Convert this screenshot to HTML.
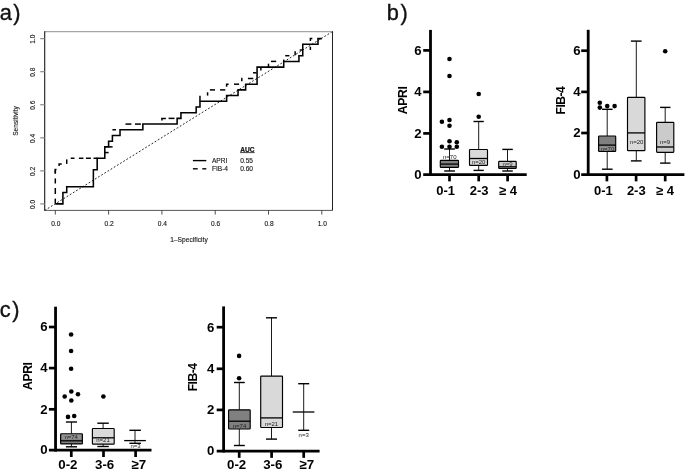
<!DOCTYPE html>
<html><head><meta charset="utf-8"><title>Figure</title>
<style>
html,body{margin:0;padding:0;background:#fff;}
body{width:685px;height:475px;overflow:hidden;}
svg{display:block;will-change:transform;font-family:'Liberation Sans', sans-serif;}
</style></head><body>
<svg width="685" height="475" viewBox="0 0 685 475">
<rect x="0" y="0" width="685" height="475" fill="#fff"/>
<text x="-0.30" y="20.30" font-size="21.8" text-anchor="start" font-weight="normal" font-style="normal" fill="#111" letter-spacing="1.5" stroke="#111" stroke-width="0.35">a)</text>
<line x1="44.7" y1="210.4" x2="332.4" y2="31.6" stroke="#222" stroke-width="1.0" stroke-dasharray="1.8 1.9"/>
<line x1="44.70" y1="31.60" x2="332.40" y2="31.60" stroke="#a6a6a6" stroke-width="1.2" />
<line x1="332.50" y1="31.20" x2="332.50" y2="210.40" stroke="#222" stroke-width="1.0" />
<line x1="44.70" y1="31.20" x2="44.70" y2="210.80" stroke="#1a1a1a" stroke-width="1.1" />
<line x1="44.30" y1="210.40" x2="332.80" y2="210.40" stroke="#3a3a3a" stroke-width="0.85" />
<line x1="55.30" y1="210.40" x2="55.30" y2="214.60" stroke="#222" stroke-width="0.8" />
<text x="55.80" y="225.50" font-size="6.6" text-anchor="middle" font-weight="normal" font-style="normal" fill="#1a1a1a" stroke="#1a1a1a" stroke-width="0.14">0.0</text>
<line x1="40.20" y1="203.90" x2="44.70" y2="203.90" stroke="#8a8a8a" stroke-width="1.2" />
<text x="35.00" y="204.40" font-size="6.6" text-anchor="middle" font-weight="normal" font-style="normal" fill="#1a1a1a" transform="rotate(-90 35.00 204.40)" stroke="#1a1a1a" stroke-width="0.14">0.0</text>
<line x1="108.60" y1="210.40" x2="108.60" y2="214.60" stroke="#222" stroke-width="0.8" />
<text x="109.10" y="225.50" font-size="6.6" text-anchor="middle" font-weight="normal" font-style="normal" fill="#1a1a1a" stroke="#1a1a1a" stroke-width="0.14">0.2</text>
<line x1="40.20" y1="170.85" x2="44.70" y2="170.85" stroke="#8a8a8a" stroke-width="1.2" />
<text x="35.00" y="171.35" font-size="6.6" text-anchor="middle" font-weight="normal" font-style="normal" fill="#1a1a1a" transform="rotate(-90 35.00 171.35)" stroke="#1a1a1a" stroke-width="0.14">0.2</text>
<line x1="161.90" y1="210.40" x2="161.90" y2="214.60" stroke="#222" stroke-width="0.8" />
<text x="162.40" y="225.50" font-size="6.6" text-anchor="middle" font-weight="normal" font-style="normal" fill="#1a1a1a" stroke="#1a1a1a" stroke-width="0.14">0.4</text>
<line x1="40.20" y1="137.80" x2="44.70" y2="137.80" stroke="#8a8a8a" stroke-width="1.2" />
<text x="35.00" y="138.30" font-size="6.6" text-anchor="middle" font-weight="normal" font-style="normal" fill="#1a1a1a" transform="rotate(-90 35.00 138.30)" stroke="#1a1a1a" stroke-width="0.14">0.4</text>
<line x1="215.20" y1="210.40" x2="215.20" y2="214.60" stroke="#222" stroke-width="0.8" />
<text x="215.70" y="225.50" font-size="6.6" text-anchor="middle" font-weight="normal" font-style="normal" fill="#1a1a1a" stroke="#1a1a1a" stroke-width="0.14">0.6</text>
<line x1="40.20" y1="104.75" x2="44.70" y2="104.75" stroke="#8a8a8a" stroke-width="1.2" />
<text x="35.00" y="105.25" font-size="6.6" text-anchor="middle" font-weight="normal" font-style="normal" fill="#1a1a1a" transform="rotate(-90 35.00 105.25)" stroke="#1a1a1a" stroke-width="0.14">0.6</text>
<line x1="268.50" y1="210.40" x2="268.50" y2="214.60" stroke="#222" stroke-width="0.8" />
<text x="269.00" y="225.50" font-size="6.6" text-anchor="middle" font-weight="normal" font-style="normal" fill="#1a1a1a" stroke="#1a1a1a" stroke-width="0.14">0.8</text>
<line x1="40.20" y1="71.70" x2="44.70" y2="71.70" stroke="#8a8a8a" stroke-width="1.2" />
<text x="35.00" y="72.20" font-size="6.6" text-anchor="middle" font-weight="normal" font-style="normal" fill="#1a1a1a" transform="rotate(-90 35.00 72.20)" stroke="#1a1a1a" stroke-width="0.14">0.8</text>
<line x1="321.80" y1="210.40" x2="321.80" y2="214.60" stroke="#222" stroke-width="0.8" />
<text x="322.30" y="225.50" font-size="6.6" text-anchor="middle" font-weight="normal" font-style="normal" fill="#1a1a1a" stroke="#1a1a1a" stroke-width="0.14">1.0</text>
<line x1="40.20" y1="38.65" x2="44.70" y2="38.65" stroke="#8a8a8a" stroke-width="1.2" />
<text x="35.00" y="39.15" font-size="6.6" text-anchor="middle" font-weight="normal" font-style="normal" fill="#1a1a1a" transform="rotate(-90 35.00 39.15)" stroke="#1a1a1a" stroke-width="0.14">1.0</text>
<text x="18.20" y="121.00" font-size="6.6" text-anchor="middle" font-weight="normal" font-style="normal" fill="#1a1a1a" transform="rotate(-90 18.20 121.00)" stroke="#1a1a1a" stroke-width="0.14">Sensitivity</text>
<text x="189.00" y="241.70" font-size="6.6" text-anchor="middle" font-weight="normal" font-style="normal" fill="#1a1a1a" stroke="#1a1a1a" stroke-width="0.14" letter-spacing="0.05">1–Specificity</text>
<line x1="55.30" y1="203.70" x2="55.30" y2="198.60" stroke="#000" stroke-width="1.5" />
<line x1="55.30" y1="194.00" x2="55.30" y2="188.00" stroke="#000" stroke-width="1.5" />
<line x1="55.30" y1="183.50" x2="55.30" y2="178.40" stroke="#000" stroke-width="1.5" />
<line x1="55.30" y1="173.60" x2="55.30" y2="169.60" stroke="#000" stroke-width="1.5" />
<line x1="66.72" y1="163.90" x2="66.72" y2="159.40" stroke="#000" stroke-width="1.5" />
<line x1="70.70" y1="158.27" x2="74.50" y2="158.27" stroke="#000" stroke-width="1.5" />
<line x1="78.90" y1="158.27" x2="83.40" y2="158.27" stroke="#000" stroke-width="1.5" />
<line x1="85.90" y1="158.27" x2="90.90" y2="158.27" stroke="#000" stroke-width="1.5" />
<line x1="93.50" y1="158.27" x2="97.50" y2="158.27" stroke="#000" stroke-width="1.5" />
<line x1="104.80" y1="152.57" x2="108.60" y2="152.57" stroke="#000" stroke-width="1.5" />
<line x1="108.60" y1="146.87" x2="112.60" y2="146.87" stroke="#000" stroke-width="1.5" />
<line x1="112.40" y1="129.78" x2="116.00" y2="129.78" stroke="#000" stroke-width="1.5" />
<line x1="125.50" y1="124.08" x2="131.40" y2="124.08" stroke="#000" stroke-width="1.5" />
<line x1="135.00" y1="124.08" x2="140.90" y2="124.08" stroke="#000" stroke-width="1.5" />
<line x1="168.60" y1="118.38" x2="174.50" y2="118.38" stroke="#000" stroke-width="1.5" />
<line x1="199.97" y1="101.29" x2="199.97" y2="95.79" stroke="#000" stroke-width="1.5" />
<line x1="207.58" y1="95.59" x2="207.58" y2="92.29" stroke="#000" stroke-width="1.5" />
<line x1="209.90" y1="89.89" x2="215.00" y2="89.89" stroke="#000" stroke-width="1.5" />
<line x1="220.10" y1="89.89" x2="225.30" y2="89.89" stroke="#000" stroke-width="1.5" />
<line x1="234.00" y1="84.19" x2="239.10" y2="84.19" stroke="#000" stroke-width="1.5" />
<line x1="247.90" y1="78.49" x2="253.30" y2="78.49" stroke="#000" stroke-width="1.5" />
<line x1="253.00" y1="72.80" x2="256.60" y2="72.80" stroke="#000" stroke-width="1.5" />
<line x1="260.88" y1="67.10" x2="260.88" y2="70.40" stroke="#000" stroke-width="1.5" />
<line x1="268.49" y1="67.10" x2="268.49" y2="63.70" stroke="#000" stroke-width="1.5" />
<line x1="271.00" y1="61.40" x2="276.20" y2="61.40" stroke="#000" stroke-width="1.5" />
<line x1="283.72" y1="61.40" x2="283.72" y2="59.60" stroke="#000" stroke-width="1.5" />
<line x1="285.20" y1="55.70" x2="289.40" y2="55.70" stroke="#000" stroke-width="1.5" />
<line x1="295.14" y1="55.30" x2="295.14" y2="51.30" stroke="#000" stroke-width="1.5" />
<line x1="299.70" y1="50.00" x2="303.00" y2="50.00" stroke="#000" stroke-width="1.5" />
<line x1="310.37" y1="50.00" x2="310.37" y2="46.70" stroke="#000" stroke-width="1.5" />
<path d="M55.3,173.6 L55.3,169.6 L56.5,169.6" fill="none" stroke="#000" stroke-width="1.5"/>
<path d="M59.107,166.0 L59.107,163.9 L61.707,163.9" fill="none" stroke="#000" stroke-width="1.5"/>
<path d="M161.89600000000002,120.58 L161.89600000000002,118.38 L165.89600000000002,118.38" fill="none" stroke="#000" stroke-width="1.5"/>
<path d="M226.615,86.79199999999997 L226.615,84.19199999999998 L228.615,84.19199999999998" fill="none" stroke="#000" stroke-width="1.5"/>
<path d="M241.84300000000002,81.29399999999998 L241.84300000000002,78.49399999999999 L242.443,78.49399999999999" fill="none" stroke="#000" stroke-width="1.5"/>
<path d="M310.36899999999997,41.007999999999974 L310.36899999999997,38.607999999999976 L312.36899999999997,38.607999999999976" fill="none" stroke="#000" stroke-width="1.5"/>
<path d="M55.30,203.85 L62.91,203.85 L62.91,192.45 L66.72,192.45 L66.72,186.76 L93.37,186.76 L93.37,169.66 L97.18,169.66 L97.18,158.27 L104.79,158.27 L104.79,146.87 L108.60,146.87 L108.60,141.17 L112.41,141.17 L112.41,135.47 L120.02,135.47 L120.02,129.78 L142.86,129.78 L142.86,124.08 L177.12,124.08 L177.12,118.38 L180.93,118.38 L180.93,112.68 L196.16,112.68 L196.16,106.98 L199.97,106.98 L199.97,101.29 L226.62,101.29 L226.62,95.59 L238.04,95.59 L238.04,89.89 L245.65,89.89 L245.65,84.19 L257.07,84.19 L257.07,67.10 L283.72,67.10 L283.72,61.40 L298.95,61.40 L298.95,55.70 L302.75,55.70 L302.75,44.31 L317.98,44.31 L317.98,38.61 L321.79,38.61" fill="none" stroke="#000" stroke-width="1.55" stroke-linejoin="miter"/>
<text x="240.20" y="152.10" font-size="6.6" text-anchor="start" font-weight="bold" font-style="normal" fill="#1a1a1a" stroke="#1a1a1a" stroke-width="0.25">AUC</text>
<line x1="240.20" y1="152.60" x2="254.70" y2="152.60" stroke="#1a1a1a" stroke-width="0.8" />
<line x1="192.90" y1="160.60" x2="206.30" y2="160.60" stroke="#000" stroke-width="1.4" />
<text x="211.90" y="162.90" font-size="6.6" text-anchor="start" font-weight="normal" font-style="normal" fill="#1a1a1a" stroke="#1a1a1a" stroke-width="0.14">APRI</text>
<text x="240.20" y="162.90" font-size="6.6" text-anchor="start" font-weight="normal" font-style="normal" fill="#1a1a1a" stroke="#1a1a1a" stroke-width="0.14">0.55</text>
<line x1="192.90" y1="168.80" x2="197.70" y2="168.80" stroke="#000" stroke-width="1.4" />
<line x1="202.30" y1="168.80" x2="206.30" y2="168.80" stroke="#000" stroke-width="1.4" />
<text x="211.90" y="171.10" font-size="6.6" text-anchor="start" font-weight="normal" font-style="normal" fill="#1a1a1a" stroke="#1a1a1a" stroke-width="0.14">FIB-4</text>
<text x="240.20" y="171.10" font-size="6.6" text-anchor="start" font-weight="normal" font-style="normal" fill="#1a1a1a" stroke="#1a1a1a" stroke-width="0.14">0.60</text>
<text x="386.80" y="20.00" font-size="21.8" text-anchor="start" font-weight="normal" font-style="normal" fill="#111" letter-spacing="1.5" stroke="#111" stroke-width="0.35">b)</text>
<line x1="430.50" y1="29.90" x2="430.50" y2="175.95" stroke="#000" stroke-width="2.8" />
<line x1="423.20" y1="174.55" x2="526.70" y2="174.55" stroke="#000" stroke-width="2.8" />
<line x1="423.20" y1="50.40" x2="430.50" y2="50.40" stroke="#000" stroke-width="2.7" />
<text x="421.70" y="54.70" font-size="13.2" text-anchor="end" font-weight="bold" font-style="normal" fill="#000" >6</text>
<line x1="423.20" y1="91.90" x2="430.50" y2="91.90" stroke="#000" stroke-width="2.7" />
<text x="421.70" y="96.20" font-size="13.2" text-anchor="end" font-weight="bold" font-style="normal" fill="#000" >4</text>
<line x1="423.20" y1="133.40" x2="430.50" y2="133.40" stroke="#000" stroke-width="2.7" />
<text x="421.70" y="137.70" font-size="13.2" text-anchor="end" font-weight="bold" font-style="normal" fill="#000" >2</text>
<text x="421.70" y="178.55" font-size="13.2" text-anchor="end" font-weight="bold" font-style="normal" fill="#000" >0</text>
<line x1="449.50" y1="174.55" x2="449.50" y2="181.35" stroke="#000" stroke-width="2.7" />
<text x="445.70" y="194.70" font-size="13.0" text-anchor="middle" font-weight="bold" font-style="normal" fill="#000" >0-1</text>
<line x1="478.70" y1="174.55" x2="478.70" y2="181.35" stroke="#000" stroke-width="2.7" />
<text x="479.10" y="194.70" font-size="13.0" text-anchor="middle" font-weight="bold" font-style="normal" fill="#000" >2-3</text>
<line x1="507.60" y1="174.55" x2="507.60" y2="181.35" stroke="#000" stroke-width="2.7" />
<text x="507.90" y="194.70" font-size="13.0" text-anchor="middle" font-weight="bold" font-style="normal" fill="#000" >≥ 4</text>
<text x="406.90" y="100.40" font-size="12.2" text-anchor="middle" font-weight="bold" font-style="normal" fill="#000" transform="rotate(-90 406.90 100.40)" letter-spacing="-0.35">APRI</text>
<line x1="449.50" y1="149.00" x2="449.50" y2="160.30" stroke="#000" stroke-width="0.9" />
<line x1="449.50" y1="167.40" x2="449.50" y2="171.00" stroke="#000" stroke-width="0.9" />
<rect x="440.30" y="160.30" width="18.20" height="7.10" fill="#808080" stroke="#000" stroke-width="1.15" rx="0.7"/>
<line x1="440.30" y1="164.10" x2="458.50" y2="164.10" stroke="#000" stroke-width="1.3" />
<line x1="444.20" y1="149.00" x2="454.90" y2="149.00" stroke="#000" stroke-width="1.4" />
<line x1="444.20" y1="171.00" x2="454.90" y2="171.00" stroke="#000" stroke-width="1.4" />
<line x1="478.70" y1="121.50" x2="478.70" y2="149.50" stroke="#000" stroke-width="0.9" />
<line x1="478.70" y1="165.40" x2="478.70" y2="170.40" stroke="#000" stroke-width="0.9" />
<rect x="469.50" y="149.50" width="18.00" height="15.90" fill="#d9d9d9" stroke="#000" stroke-width="1.15" rx="0.7"/>
<line x1="469.50" y1="158.50" x2="487.50" y2="158.50" stroke="#000" stroke-width="1.3" />
<line x1="473.50" y1="121.50" x2="483.80" y2="121.50" stroke="#000" stroke-width="1.4" />
<line x1="473.50" y1="170.40" x2="483.80" y2="170.40" stroke="#000" stroke-width="1.4" />
<line x1="507.50" y1="149.40" x2="507.50" y2="161.40" stroke="#000" stroke-width="0.9" />
<line x1="507.50" y1="168.40" x2="507.50" y2="171.00" stroke="#000" stroke-width="0.9" />
<rect x="498.70" y="161.40" width="17.50" height="7.00" fill="#cbcbcb" stroke="#000" stroke-width="1.15" rx="0.7"/>
<line x1="498.70" y1="166.80" x2="516.20" y2="166.80" stroke="#000" stroke-width="1.3" />
<line x1="502.30" y1="149.40" x2="512.80" y2="149.40" stroke="#000" stroke-width="1.4" />
<line x1="502.30" y1="171.00" x2="512.80" y2="171.00" stroke="#000" stroke-width="1.4" />
<circle cx="449.50" cy="59.00" r="2.3" fill="#000"/>
<circle cx="449.50" cy="76.00" r="2.3" fill="#000"/>
<circle cx="478.70" cy="94.00" r="2.3" fill="#000"/>
<circle cx="478.70" cy="116.80" r="2.3" fill="#000"/>
<circle cx="441.90" cy="121.70" r="2.3" fill="#000"/>
<circle cx="449.50" cy="120.00" r="2.3" fill="#000"/>
<circle cx="449.50" cy="125.70" r="2.3" fill="#000"/>
<circle cx="449.50" cy="141.30" r="2.3" fill="#000"/>
<circle cx="456.80" cy="142.30" r="2.3" fill="#000"/>
<circle cx="441.90" cy="146.80" r="2.3" fill="#000"/>
<circle cx="449.50" cy="146.80" r="2.3" fill="#000"/>
<circle cx="456.80" cy="146.80" r="2.3" fill="#000"/>
<text x="449.80" y="159.20" font-size="6.0" text-anchor="middle" font-weight="normal" font-style="normal" fill="#222" >n=70</text>
<text x="478.60" y="163.90" font-size="6.0" text-anchor="middle" font-weight="normal" font-style="normal" fill="#222" >n=20</text>
<text x="507.60" y="166.00" font-size="6.0" text-anchor="middle" font-weight="normal" font-style="normal" fill="#333" >n=9</text>
<line x1="588.20" y1="29.80" x2="588.20" y2="175.95" stroke="#000" stroke-width="2.8" />
<line x1="581.20" y1="174.55" x2="684.40" y2="174.55" stroke="#000" stroke-width="2.8" />
<line x1="581.20" y1="50.70" x2="588.20" y2="50.70" stroke="#000" stroke-width="2.7" />
<text x="580.60" y="55.00" font-size="13.2" text-anchor="end" font-weight="bold" font-style="normal" fill="#000" >6</text>
<line x1="581.20" y1="91.90" x2="588.20" y2="91.90" stroke="#000" stroke-width="2.7" />
<text x="580.60" y="96.20" font-size="13.2" text-anchor="end" font-weight="bold" font-style="normal" fill="#000" >4</text>
<line x1="581.20" y1="133.00" x2="588.20" y2="133.00" stroke="#000" stroke-width="2.7" />
<text x="580.60" y="137.30" font-size="13.2" text-anchor="end" font-weight="bold" font-style="normal" fill="#000" >2</text>
<text x="580.60" y="178.55" font-size="13.2" text-anchor="end" font-weight="bold" font-style="normal" fill="#000" >0</text>
<line x1="606.90" y1="174.55" x2="606.90" y2="181.35" stroke="#000" stroke-width="2.7" />
<text x="603.40" y="194.70" font-size="13.0" text-anchor="middle" font-weight="bold" font-style="normal" fill="#000" >0-1</text>
<line x1="636.10" y1="174.55" x2="636.10" y2="181.35" stroke="#000" stroke-width="2.7" />
<text x="636.30" y="194.70" font-size="13.0" text-anchor="middle" font-weight="bold" font-style="normal" fill="#000" >2-3</text>
<line x1="665.20" y1="174.55" x2="665.20" y2="181.35" stroke="#000" stroke-width="2.7" />
<text x="664.90" y="194.70" font-size="13.0" text-anchor="middle" font-weight="bold" font-style="normal" fill="#000" >≥ 4</text>
<text x="564.60" y="100.50" font-size="12.2" text-anchor="middle" font-weight="bold" font-style="normal" fill="#000" transform="rotate(-90 564.60 100.50)" letter-spacing="-0.55">FIB-4</text>
<line x1="607.20" y1="109.30" x2="607.20" y2="136.00" stroke="#000" stroke-width="0.9" />
<line x1="607.20" y1="151.40" x2="607.20" y2="169.20" stroke="#000" stroke-width="0.9" />
<rect x="598.60" y="136.00" width="17.10" height="15.40" fill="#808080" stroke="#000" stroke-width="1.15" rx="0.7"/>
<line x1="598.60" y1="145.10" x2="615.70" y2="145.10" stroke="#000" stroke-width="1.3" />
<line x1="602.00" y1="109.30" x2="612.60" y2="109.30" stroke="#000" stroke-width="1.4" />
<line x1="602.00" y1="169.20" x2="612.60" y2="169.20" stroke="#000" stroke-width="1.4" />
<line x1="636.30" y1="41.10" x2="636.30" y2="97.30" stroke="#000" stroke-width="0.9" />
<line x1="636.30" y1="150.60" x2="636.30" y2="160.90" stroke="#000" stroke-width="0.9" />
<rect x="627.50" y="97.30" width="17.40" height="53.30" fill="#d9d9d9" stroke="#000" stroke-width="1.15" rx="0.7"/>
<line x1="627.50" y1="132.90" x2="644.90" y2="132.90" stroke="#000" stroke-width="1.3" />
<line x1="630.90" y1="41.10" x2="641.60" y2="41.10" stroke="#000" stroke-width="1.4" />
<line x1="630.90" y1="160.90" x2="641.60" y2="160.90" stroke="#000" stroke-width="1.4" />
<line x1="665.20" y1="107.40" x2="665.20" y2="122.40" stroke="#000" stroke-width="0.9" />
<line x1="665.20" y1="152.30" x2="665.20" y2="163.10" stroke="#000" stroke-width="0.9" />
<rect x="656.60" y="122.40" width="17.20" height="29.90" fill="#cbcbcb" stroke="#000" stroke-width="1.15" rx="0.7"/>
<line x1="656.60" y1="147.00" x2="673.80" y2="147.00" stroke="#000" stroke-width="1.3" />
<line x1="660.10" y1="107.40" x2="670.50" y2="107.40" stroke="#000" stroke-width="1.4" />
<line x1="660.10" y1="163.10" x2="670.50" y2="163.10" stroke="#000" stroke-width="1.4" />
<circle cx="665.20" cy="51.30" r="2.3" fill="#000"/>
<circle cx="599.80" cy="102.80" r="2.3" fill="#000"/>
<circle cx="599.80" cy="107.60" r="2.3" fill="#000"/>
<circle cx="607.20" cy="106.10" r="2.3" fill="#000"/>
<circle cx="614.60" cy="106.10" r="2.3" fill="#000"/>
<rect x="599.8" y="146.3" width="14.80" height="4.40" fill="#929292"/>
<text x="607.50" y="150.50" font-size="6.0" text-anchor="middle" font-weight="normal" font-style="normal" fill="#222" >n=70</text>
<text x="636.60" y="143.60" font-size="6.0" text-anchor="middle" font-weight="normal" font-style="normal" fill="#222" >n=20</text>
<text x="665.00" y="143.60" font-size="6.0" text-anchor="middle" font-weight="normal" font-style="normal" fill="#222" >n=9</text>
<text x="-0.20" y="317.00" font-size="21.8" text-anchor="start" font-weight="normal" font-style="normal" fill="#111" letter-spacing="1.5" stroke="#111" stroke-width="0.35">c)</text>
<line x1="55.55" y1="306.70" x2="55.55" y2="451.60" stroke="#000" stroke-width="2.8" />
<line x1="48.90" y1="450.20" x2="151.50" y2="450.20" stroke="#000" stroke-width="2.8" />
<line x1="48.90" y1="327.00" x2="55.55" y2="327.00" stroke="#000" stroke-width="2.7" />
<text x="47.60" y="331.30" font-size="13.2" text-anchor="end" font-weight="bold" font-style="normal" fill="#000" >6</text>
<line x1="48.90" y1="368.10" x2="55.55" y2="368.10" stroke="#000" stroke-width="2.7" />
<text x="47.60" y="372.40" font-size="13.2" text-anchor="end" font-weight="bold" font-style="normal" fill="#000" >4</text>
<line x1="48.90" y1="409.30" x2="55.55" y2="409.30" stroke="#000" stroke-width="2.7" />
<text x="47.60" y="413.60" font-size="13.2" text-anchor="end" font-weight="bold" font-style="normal" fill="#000" >2</text>
<text x="47.60" y="454.20" font-size="13.2" text-anchor="end" font-weight="bold" font-style="normal" fill="#000" >0</text>
<line x1="71.30" y1="450.20" x2="71.30" y2="457.00" stroke="#000" stroke-width="2.7" />
<text x="67.90" y="468.60" font-size="13.3" text-anchor="middle" font-weight="bold" font-style="normal" fill="#000" >0-2</text>
<line x1="103.50" y1="450.20" x2="103.50" y2="457.00" stroke="#000" stroke-width="2.7" />
<text x="104.65" y="468.60" font-size="13.3" text-anchor="middle" font-weight="bold" font-style="normal" fill="#000" >3-6</text>
<line x1="135.60" y1="450.20" x2="135.60" y2="457.00" stroke="#000" stroke-width="2.7" />
<text x="138.90" y="468.60" font-size="13.3" text-anchor="middle" font-weight="bold" font-style="normal" fill="#000" >≥7</text>
<text x="31.80" y="376.20" font-size="12.2" text-anchor="middle" font-weight="bold" font-style="normal" fill="#000" transform="rotate(-90 31.80 376.20)" letter-spacing="-0.35">APRI</text>
<line x1="71.40" y1="422.00" x2="71.40" y2="433.70" stroke="#000" stroke-width="0.9" />
<line x1="71.40" y1="443.90" x2="71.40" y2="446.80" stroke="#000" stroke-width="0.9" />
<rect x="60.60" y="433.70" width="21.80" height="10.20" fill="#808080" stroke="#000" stroke-width="1.15" rx="0.7"/>
<line x1="60.60" y1="440.80" x2="82.40" y2="440.80" stroke="#000" stroke-width="1.3" />
<line x1="65.90" y1="422.00" x2="77.00" y2="422.00" stroke="#000" stroke-width="1.4" />
<line x1="65.90" y1="446.80" x2="77.00" y2="446.80" stroke="#000" stroke-width="1.4" />
<line x1="103.10" y1="423.20" x2="103.10" y2="428.50" stroke="#000" stroke-width="0.9" />
<line x1="103.10" y1="444.10" x2="103.10" y2="446.50" stroke="#000" stroke-width="0.9" />
<rect x="92.40" y="428.50" width="21.80" height="15.60" fill="#d9d9d9" stroke="#000" stroke-width="1.15" rx="0.7"/>
<line x1="92.40" y1="437.80" x2="114.20" y2="437.80" stroke="#000" stroke-width="1.3" />
<line x1="97.30" y1="423.20" x2="108.80" y2="423.20" stroke="#000" stroke-width="1.4" />
<line x1="97.30" y1="446.50" x2="108.80" y2="446.50" stroke="#000" stroke-width="1.4" />
<line x1="135.00" y1="430.30" x2="135.00" y2="443.30" stroke="#000" stroke-width="0.9" />
<line x1="124.20" y1="440.60" x2="145.90" y2="440.60" stroke="#000" stroke-width="1.3" />
<line x1="129.40" y1="430.30" x2="140.90" y2="430.30" stroke="#000" stroke-width="1.4" />
<line x1="129.40" y1="443.30" x2="140.90" y2="443.30" stroke="#000" stroke-width="1.4" />
<circle cx="71.10" cy="334.50" r="2.3" fill="#000"/>
<circle cx="71.10" cy="351.00" r="2.3" fill="#000"/>
<circle cx="71.10" cy="368.80" r="2.3" fill="#000"/>
<circle cx="64.70" cy="396.50" r="2.3" fill="#000"/>
<circle cx="71.30" cy="391.50" r="2.3" fill="#000"/>
<circle cx="78.00" cy="394.30" r="2.3" fill="#000"/>
<circle cx="71.30" cy="400.50" r="2.3" fill="#000"/>
<circle cx="68.00" cy="416.90" r="2.3" fill="#000"/>
<circle cx="74.20" cy="416.00" r="2.3" fill="#000"/>
<circle cx="103.40" cy="396.50" r="2.3" fill="#000"/>
<rect x="62.2" y="434.7" width="18.60" height="4.60" fill="#929292"/>
<text x="71.20" y="438.90" font-size="6.0" text-anchor="middle" font-weight="normal" font-style="normal" fill="#222" >n=74</text>
<text x="103.00" y="442.30" font-size="6.0" text-anchor="middle" font-weight="normal" font-style="normal" fill="#222" >n=21</text>
<text x="135.60" y="447.80" font-size="6.0" text-anchor="middle" font-weight="normal" font-style="normal" fill="#222" >n=3</text>
<line x1="223.60" y1="306.40" x2="223.60" y2="452.45" stroke="#000" stroke-width="2.8" />
<line x1="216.70" y1="451.05" x2="319.60" y2="451.05" stroke="#000" stroke-width="2.8" />
<line x1="216.70" y1="327.20" x2="223.60" y2="327.20" stroke="#000" stroke-width="2.7" />
<text x="214.30" y="331.50" font-size="13.2" text-anchor="end" font-weight="bold" font-style="normal" fill="#000" >6</text>
<line x1="216.70" y1="368.80" x2="223.60" y2="368.80" stroke="#000" stroke-width="2.7" />
<text x="214.30" y="373.10" font-size="13.2" text-anchor="end" font-weight="bold" font-style="normal" fill="#000" >4</text>
<line x1="216.70" y1="409.90" x2="223.60" y2="409.90" stroke="#000" stroke-width="2.7" />
<text x="214.30" y="414.20" font-size="13.2" text-anchor="end" font-weight="bold" font-style="normal" fill="#000" >2</text>
<text x="214.30" y="455.05" font-size="13.2" text-anchor="end" font-weight="bold" font-style="normal" fill="#000" >0</text>
<line x1="239.20" y1="451.05" x2="239.20" y2="457.85" stroke="#000" stroke-width="2.7" />
<text x="236.65" y="469.00" font-size="13.3" text-anchor="middle" font-weight="bold" font-style="normal" fill="#000" >0-2</text>
<line x1="271.60" y1="451.05" x2="271.60" y2="457.85" stroke="#000" stroke-width="2.7" />
<text x="272.75" y="469.00" font-size="13.3" text-anchor="middle" font-weight="bold" font-style="normal" fill="#000" >3-6</text>
<line x1="303.70" y1="451.05" x2="303.70" y2="457.85" stroke="#000" stroke-width="2.7" />
<text x="306.90" y="469.00" font-size="13.3" text-anchor="middle" font-weight="bold" font-style="normal" fill="#000" >≥7</text>
<text x="196.80" y="377.40" font-size="12.2" text-anchor="middle" font-weight="bold" font-style="normal" fill="#000" transform="rotate(-90 196.80 377.40)" letter-spacing="-0.55">FIB-4</text>
<line x1="239.30" y1="382.50" x2="239.30" y2="409.80" stroke="#000" stroke-width="0.9" />
<line x1="239.30" y1="429.00" x2="239.30" y2="445.50" stroke="#000" stroke-width="0.9" />
<rect x="228.60" y="409.80" width="21.60" height="19.20" fill="#808080" stroke="#000" stroke-width="1.15" rx="0.7"/>
<line x1="228.60" y1="421.20" x2="250.20" y2="421.20" stroke="#000" stroke-width="1.3" />
<line x1="234.00" y1="382.50" x2="244.80" y2="382.50" stroke="#000" stroke-width="1.4" />
<line x1="234.00" y1="445.50" x2="244.80" y2="445.50" stroke="#000" stroke-width="1.4" />
<line x1="271.50" y1="317.80" x2="271.50" y2="376.10" stroke="#000" stroke-width="0.9" />
<line x1="271.50" y1="427.50" x2="271.50" y2="439.10" stroke="#000" stroke-width="0.9" />
<rect x="260.70" y="376.10" width="21.80" height="51.40" fill="#d9d9d9" stroke="#000" stroke-width="1.15" rx="0.7"/>
<line x1="260.70" y1="417.90" x2="282.50" y2="417.90" stroke="#000" stroke-width="1.3" />
<line x1="266.00" y1="317.80" x2="277.00" y2="317.80" stroke="#000" stroke-width="1.4" />
<line x1="266.00" y1="439.10" x2="277.00" y2="439.10" stroke="#000" stroke-width="1.4" />
<line x1="303.70" y1="383.70" x2="303.70" y2="430.30" stroke="#000" stroke-width="0.9" />
<line x1="292.70" y1="412.00" x2="314.40" y2="412.00" stroke="#000" stroke-width="1.3" />
<line x1="298.20" y1="383.70" x2="309.20" y2="383.70" stroke="#000" stroke-width="1.4" />
<line x1="298.20" y1="430.30" x2="309.20" y2="430.30" stroke="#000" stroke-width="1.4" />
<circle cx="239.10" cy="355.90" r="2.3" fill="#000"/>
<circle cx="239.10" cy="378.20" r="2.3" fill="#000"/>
<text x="239.50" y="427.80" font-size="6.0" text-anchor="middle" font-weight="normal" font-style="normal" fill="#222" >n=74</text>
<text x="271.40" y="425.60" font-size="6.0" text-anchor="middle" font-weight="normal" font-style="normal" fill="#222" >n=21</text>
<text x="303.70" y="437.40" font-size="6.0" text-anchor="middle" font-weight="normal" font-style="normal" fill="#222" >n=3</text>
</svg>
</body></html>
